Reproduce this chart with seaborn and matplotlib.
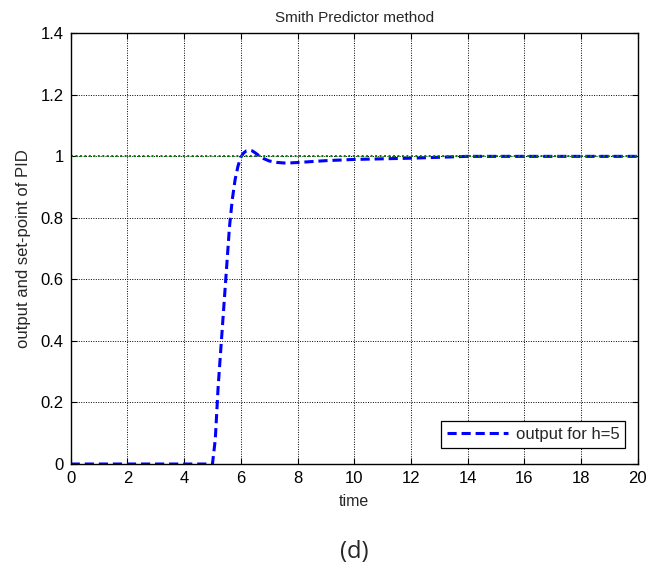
import matplotlib
matplotlib.use("Agg")
import matplotlib.pyplot as plt
import seaborn as sns
import pandas as pd

# Closed-loop response of the Smith predictor scheme (dead time h=5)
time = [0, 4.95, 5.0, 5.1, 5.2, 5.3, 5.4, 5.5, 5.6, 5.7, 5.8, 5.9, 6.0,
        6.1, 6.2, 6.3, 6.4, 6.5, 6.6, 6.8, 7.0, 7.3, 7.6, 8.0, 8.5, 9.0, 9.5, 10,
        11, 12, 13, 14, 16, 18, 20]
output_h5 = [0, 0, 0.0, 0.08, 0.25, 0.38, 0.51, 0.64, 0.77, 0.86, 0.925, 0.968, 0.997,
             1.011, 1.018, 1.02, 1.018, 1.012, 1.005, 0.993, 0.985, 0.98, 0.978, 0.98, 0.983, 0.986, 0.988, 0.99,
             0.992, 0.994, 0.997, 1.0, 1.0, 1.0, 1.0]
setpoint_time = [0, 20]
setpoint = [1, 1]

x_ticks = [0, 2, 4, 6, 8, 10, 12, 14, 16, 18, 20]
y_ticks = [0, 0.2, 0.4, 0.6, 0.8, 1, 1.2, 1.4]
y_tick_labels = ["0", "0.2", "0.4", "0.6", "0.8", "1", "1.2", "1.4"]

sns.set_style("white")
plt.rcParams["font.family"] = ["Liberation Sans", "DejaVu Sans"]

df_out = pd.DataFrame({"time": time, "y": output_h5})
df_sp = pd.DataFrame({"time": setpoint_time, "y": setpoint})

fig = plt.figure(figsize=(6.62, 5.73), dpi=100)
ax = fig.add_axes([0.1068, 0.1902, 0.9633 - 0.1068, 0.9419 - 0.1902])

sns.lineplot(data=df_out, x="time", y="y", ax=ax, color="#0000ff",
             linestyle=(0, (3, 1.6)), linewidth=2.2, label="output for h=5")
sns.lineplot(data=df_sp, x="time", y="y", ax=ax, color="#008000",
             linestyle=(0, (1, 1.3)), linewidth=1.4, label="_nolegend_")

ax.set_xlim(0, 20)
ax.set_ylim(0, 1.4)
ax.set_xticks(x_ticks)
ax.set_xticklabels([str(v) for v in x_ticks])
ax.set_yticks(y_ticks)
ax.set_yticklabels(y_tick_labels)

ax.grid(True, color="black", linestyle=(0, (1, 1.5)), linewidth=0.7)
ax.set_axisbelow(True)
for s in ax.spines.values():
    s.set_visible(True)
    s.set_color("black")
    s.set_linewidth(1.0)

ax.tick_params(axis="both", which="both", direction="in", length=4, width=0.8,
               top=True, right=True, bottom=True, left=True,
               labelsize=12, colors="black", pad=5)

ax.set_title("Smith Predictor method", fontsize=11, pad=8)
ax.set_xlabel("time", fontsize=11.5, labelpad=6)
ax.set_ylabel("output and set-point of PID", fontsize=12, labelpad=7)

leg = ax.legend(loc="lower right", bbox_to_anchor=(0.993, 0.018), fontsize=12,
                frameon=True, fancybox=False, framealpha=1, edgecolor="black",
                handlelength=3.7, borderpad=0.35, handletextpad=0.45)
leg.get_frame().set_linewidth(0.9)

fig.text(0.535, 0.036, "(d)", fontsize=17, ha="center", va="center",
         family=["Open Sans", "DejaVu Sans"])

fig.savefig("out.png", dpi=100)
